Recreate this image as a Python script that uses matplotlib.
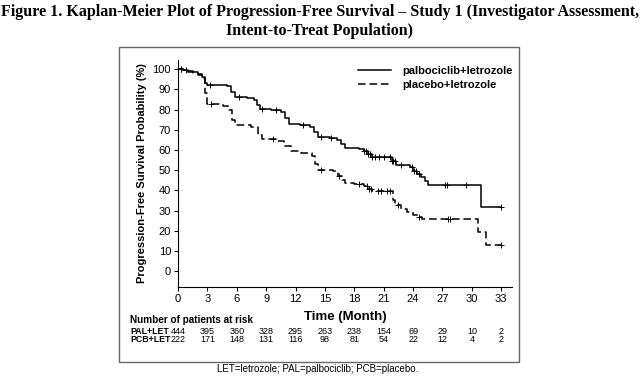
import numpy as np
import matplotlib
matplotlib.use('Agg')
import matplotlib.pyplot as plt
import matplotlib.transforms as mtransforms
from matplotlib.patches import Rectangle

# Kaplan-Meier step data (months, % progression-free)
pal_time = [0, 0.5, 1.0, 1.5, 2.0, 2.5, 2.8, 3.0, 5.0, 5.4, 5.8, 7.0, 7.8, 8.1, 8.4, 9.5,
            10.5, 10.9, 11.3, 12.5, 13.5, 13.9, 14.3, 15.5, 16.2, 16.6, 17.0, 18.5, 19.0,
            19.4, 19.8, 21.8, 22.3, 23.7, 24.0, 24.4, 24.8, 25.2, 25.5, 30.9, 33.0]
pal_surv = [100, 99.5, 99, 98.5, 97.5, 96, 93, 92, 91.5, 88.5, 86.5, 86, 85, 82.5, 80.5, 80,
            79, 76, 73, 72.5, 71.5, 69, 66.5, 66, 65, 63, 61, 60.5, 59.5,
            58, 56.5, 54.5, 52.5, 51.5, 49.5, 48, 46.5, 44.5, 42.5, 31.5, 31.5]

pcb_time = [0, 0.5, 1.0, 1.5, 2.0, 2.5, 2.8, 3.0, 4.6, 5.1, 5.5, 5.8, 7.5, 8.2, 8.6, 10.0,
            10.8, 11.5, 12.6, 13.7, 14.0, 14.3, 15.8, 16.3, 16.7, 17.1, 18.0, 19.0, 19.5,
            19.8, 21.9, 22.2, 22.8, 23.4, 24.0, 24.5, 24.9, 30.6, 31.4, 33.0]
pcb_surv = [100, 99.5, 98.5, 98, 97, 95.5, 88, 83, 82, 80, 75, 72.5, 71.5, 67.5, 65.5, 64.5,
            62, 59.5, 58.5, 57, 53, 50, 49.5, 47, 45, 43.5, 43, 42, 40.5,
            39.5, 35, 32.5, 31, 29.5, 28, 27, 26, 19.5, 13, 13]

# censoring marks (months)
pal_censor = [0.3, 0.8, 3.3, 6.2, 8.6, 10.0, 12.8, 14.6, 15.6, 19.0, 19.2, 19.4, 19.6, 19.8,
              20.1, 20.5, 21.0, 21.6, 21.8, 22.0, 22.2, 22.8, 23.9, 24.1, 24.3, 24.6,
              27.3, 27.5, 29.4, 33.0]
pcb_censor = [0.3, 3.4, 9.7, 14.6, 16.4, 18.5, 19.3, 19.5, 19.7, 20.4, 20.7, 21.3, 21.6,
              22.5, 24.6, 27.6, 27.8, 33.0]

risk_times = [0, 3, 6, 9, 12, 15, 18, 21, 24, 27, 30, 33]
pal_risk = [444, 395, 360, 328, 295, 263, 238, 154, 69, 29, 10, 2]
pcb_risk = [222, 171, 148, 131, 116, 98, 81, 54, 22, 12, 4, 2]


def step_value(times, surv, t):
    i = np.searchsorted(times, t, side='right') - 1
    return surv[i]


plt.rcParams['font.family'] = ['Liberation Sans', 'DejaVu Sans']

W, H = 640, 381
fig = plt.figure(figsize=(W / 100, H / 100), dpi=100)
ax = fig.add_axes([178 / W, 1 - 287 / H, (512 - 178) / W, (287 - 60) / H])

ax.step(pal_time, pal_surv, where='post', color='black', lw=1.1,
        label='palbociclib+letrozole')
ax.step(pcb_time, pcb_surv, where='post', color='black', lw=1.1,
        linestyle=(0, (5, 2.5)), label='placebo+letrozole')

ax.plot(pal_censor, [step_value(pal_time, pal_surv, t) for t in pal_censor], '+',
        color='black', ms=4, mew=0.7)
ax.plot(pcb_censor, [step_value(pcb_time, pcb_surv, t) for t in pcb_censor], '+',
        color='black', ms=4, mew=0.7)

ax.set_xlim(0, 34.1)
ax.set_ylim(-7.9, 104.6)
ax.set_xticks(risk_times)
ax.set_yticks(range(0, 101, 10))
ax.spines['top'].set_visible(False)
ax.spines['right'].set_visible(False)
ax.tick_params(labelsize=8, length=3, width=0.8, pad=2)
ax.set_xlabel('Time (Month)', fontsize=9.5, fontweight='bold', labelpad=5)
ax.set_ylabel('Progression-Free Survival Probability (%)', fontsize=8,
              fontweight='bold', labelpad=4)

ax.legend(loc='upper left', bbox_to_anchor=(358 / W, 1 - 66 / H),
          bbox_transform=fig.transFigure, frameon=False, handlelength=3.0,
          handletextpad=1.0, borderpad=0, borderaxespad=0, labelspacing=0.35,
          prop={'weight': 'bold', 'size': 8})

# at-risk table
tr = mtransforms.blended_transform_factory(ax.transData, fig.transFigure)
fig.text(130 / W, 1 - 320 / H, 'Number of patients at risk', fontsize=7.2,
         fontweight='bold', va='center')
fig.text(130 / W, 1 - 331 / H, 'PAL+LET', fontsize=6.3, fontweight='bold', va='center')
fig.text(130 / W, 1 - 339.5 / H, 'PCB+LET', fontsize=6.3, fontweight='bold', va='center')
for t, a, b in zip(risk_times, pal_risk, pcb_risk):
    ax.text(t, 1 - 331 / H, str(a), transform=tr, ha='center', va='center', fontsize=6.5)
    ax.text(t, 1 - 339.5 / H, str(b), transform=tr, ha='center', va='center', fontsize=6.5)

fig.add_artist(Rectangle((119 / W, 1 - 362 / H), 400 / W, 315 / H,
                         transform=fig.transFigure, fill=False, ec='#666666', lw=1))

fig.text(0.5, 1 - 12 / H,
         'Figure 1. Kaplan-Meier Plot of Progression-Free Survival \u2013 Study 1 '
         '(Investigator Assessment,', ha='center', va='center',
         family='Liberation Serif', fontweight='bold', fontsize=11.5)
fig.text(0.5, 1 - 31 / H, 'Intent-to-Treat Population)', ha='center', va='center',
         family='Liberation Serif', fontweight='bold', fontsize=11.5)
fig.text(318 / W, 1 - 369 / H, 'LET=letrozole; PAL=palbociclib; PCB=placebo.',
         ha='center', va='center', fontsize=7)

fig.savefig('out.png', dpi=100)
